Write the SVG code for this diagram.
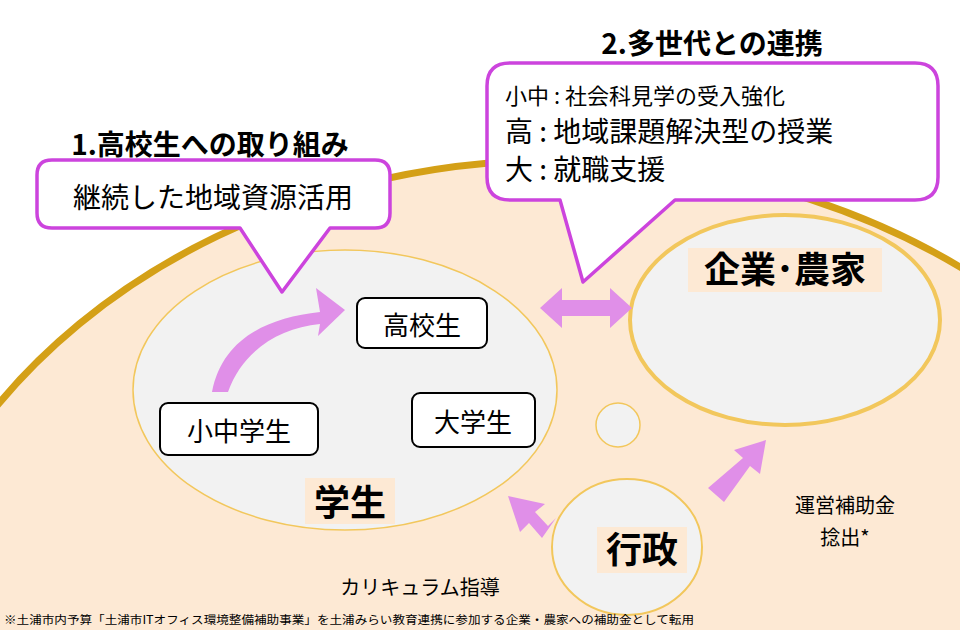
<svg xmlns="http://www.w3.org/2000/svg" width="960" height="630" viewBox="0 0 960 630">
<style>
text{font-family:"Noto Sans CJK JP","Noto Sans",sans-serif;fill:#000}
.box{fill:#fff;stroke:#000;stroke-width:2}
.call{fill:#fff;stroke:#cc44dd;stroke-width:3.5;stroke-linejoin:round}
.arr{fill:#e08fe8}
.bg{fill:#fde9d4}
</style>
<rect width="960" height="630" fill="#fff"/>
<ellipse id="region" cx="560" cy="720" rx="680" ry="560" fill="#fde9d4" stroke="#d4a017" stroke-width="7"/>
<g id="students"><ellipse cx="345" cy="390" rx="212" ry="140" fill="#f2f2f2" stroke="#f2c75c" stroke-width="1.5"/>
<rect class="bg" x="305" y="478" width="90" height="46"/><text x="350" y="516" font-size="36" font-weight="bold" text-anchor="middle">学生</text></g>
<g id="company"><ellipse cx="785" cy="320" rx="155" ry="105" fill="#f2f2f2" stroke="#f2c75c" stroke-width="4"/>
<rect class="bg" x="688" y="248" width="194" height="44"/><text x="785" y="283" font-size="36" font-weight="bold" text-anchor="middle">企業･農家</text></g>
<circle id="small" cx="618" cy="425" r="22" fill="#f2f2f2" stroke="#f2c75c" stroke-width="1.5"/>
<g id="gov"><ellipse cx="627" cy="547" rx="75" ry="68" fill="#f2f2f2" stroke="#f2c75c" stroke-width="2"/>
<rect class="bg" x="597" y="527" width="90" height="46"/><text x="642" y="563" font-size="36" font-weight="bold" text-anchor="middle">行政</text></g>
<g id="connectors">
<path class="arr" d="M212 392 C222 340 265 318 320 312 L316 288 L345 310 L318 336 L320 324 C278 328 242 352 228 392 Z"/>
<path class="arr" d="M540 308 L562 288 L562 300 L610 300 L610 288 L632 308 L610 328 L610 316 L562 316 L562 328 Z"/>
<path class="arr" d="M556 518 L542 538 L529 523 L520 532 L508 496 L545 504 L535 512 L548 526 Z"/>
<path class="arr" d="M708 488 L724 502 L750 466 L760 474 L766 440 L734 450 L743 458 Z"/>
</g>
<g id="n-hs"><rect class="box" x="357" y="298" width="130" height="50" rx="8"/><text x="422" y="335" font-size="26" text-anchor="middle">高校生</text></g>
<g id="n-es"><rect class="box" x="160" y="403" width="158" height="52" rx="8"/><text x="239" y="441" font-size="26" text-anchor="middle">小中学生</text></g>
<g id="n-univ"><rect class="box" x="412" y="393" width="123" height="54" rx="8"/><text x="473" y="432" font-size="26" text-anchor="middle">大学生</text></g>
<g id="callout1"><path class="call" d="M52 160 H375 Q390 160 390 175 V213 Q390 228 375 228 H330 L282 292 L240 228 H52 Q37 228 37 213 V175 Q37 160 52 160 Z"/>
<text x="213" y="208" font-size="28" text-anchor="middle">継続した地域資源活用</text>
<text x="210" y="155" font-size="28" font-weight="bold" text-anchor="middle">1.高校生への取り組み</text></g>
<g id="callout2"><path class="call" d="M510 63 H915 Q938 63 938 86 V177 Q938 200 915 200 H675 L583 282 L560 200 H510 Q487 200 487 177 V86 Q487 63 510 63 Z"/>
<text x="505" y="104" font-size="22">小中 : 社会科見学の受入強化</text>
<text x="505" y="142" font-size="28">高 : 地域課題解決型の授業</text>
<text x="505" y="180" font-size="28">大 : 就職支援</text>
<text x="712" y="54" font-size="28" font-weight="bold" text-anchor="middle">2.多世代との連携</text></g>
<text x="845" y="513" font-size="20" text-anchor="middle">運営補助金</text>
<text x="845" y="545" font-size="20" text-anchor="middle">捻出*</text>
<text x="420" y="595" font-size="20" text-anchor="middle">カリキュラム指導</text>
<text x="4" y="624" font-size="11.5" textLength="690" lengthAdjust="spacingAndGlyphs">※土浦市内予算「土浦市ITオフィス環境整備補助事業」を土浦みらい教育連携に参加する企業・農家への補助金として転用</text>
</svg>
